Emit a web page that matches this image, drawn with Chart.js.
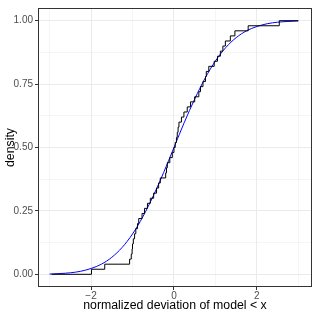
<!DOCTYPE html>
<html>
<head>
<meta charset="utf-8">
<script src="https://cdn.jsdelivr.net/npm/chart.js@4/dist/chart.umd.min.js"></script>
<style>
html,body{margin:0;padding:0;background:#fff;}
#wrap{width:315px;height:315px;}
</style>
</head>
<body>
<div id="wrap"><canvas id="c" width="315" height="315"></canvas></div>
<script>
const ecdfX = [-2.95, -1.99, -1.67, -1.07, -1.03, -1.01, -1.00, -0.98, -0.95, -0.92, -0.88,
  -0.85, -0.77, -0.71, -0.64, -0.57, -0.49, -0.42, -0.37, -0.33, -0.20,
  -0.18, -0.16, -0.10, -0.04, 0.00, 0.03, 0.06, 0.08, 0.10, 0.12,
  0.18, 0.24, 0.32, 0.40, 0.50, 0.60, 0.64, 0.70, 0.76, 0.78,
  0.84, 0.97, 1.05, 1.12, 1.18, 1.24, 1.36, 1.47, 1.79, 2.54, 3.00];
const ecdfY = [0.00, 0.02, 0.04, 0.06, 0.08, 0.10, 0.12, 0.14, 0.16, 0.18, 0.20,
  0.22, 0.24, 0.26, 0.28, 0.30, 0.32, 0.34, 0.36, 0.38, 0.40,
  0.42, 0.44, 0.46, 0.48, 0.50, 0.52, 0.54, 0.56, 0.58, 0.60,
  0.62, 0.64, 0.66, 0.68, 0.70, 0.72, 0.74, 0.76, 0.78, 0.80,
  0.82, 0.84, 0.86, 0.88, 0.90, 0.92, 0.94, 0.96, 0.98, 1.00, 1.00];
// Smooth reference curve (blue)
const curveX = [-3, -2.75, -2.5, -2.25, -2, -1.75, -1.5, -1.25, -1, -0.75, -0.5, -0.25, 0,
  0.25, 0.5, 0.75, 1, 1.25, 1.5, 1.75, 2, 2.25, 2.5, 2.75, 3];
const curveY = [0.001, 0.003, 0.006, 0.012, 0.023, 0.040, 0.067, 0.106, 0.159, 0.227, 0.309, 0.401, 0.500,
  0.599, 0.691, 0.773, 0.841, 0.894, 0.933, 0.960, 0.977, 0.988, 0.994, 0.997, 0.999];
// Axis ticks
const xMajorTicks = [-2, 0, 2];
const xAllTicks = [-3, -2, -1, 0, 1, 2, 3];
const yMajorTicks = [0, 0.25, 0.5, 0.75, 1];
const yAllTicks = [0, 0.125, 0.25, 0.375, 0.5, 0.625, 0.75, 0.875, 1];
const yTickLabels = ['0.00', '0.25', '0.50', '0.75', '1.00'];
const xTitle = 'normalized deviation of model < x';
const yTitle = 'density';

const FONT = "'Liberation Sans', Arial, sans-serif";
const isMajor = (arr, v) => arr.some(m => Math.abs(m - v) < 1e-9);

const borderPlugin = {
  id: 'panelBorder',
  afterDraw(chart) {
    const a = chart.chartArea, ctx = chart.ctx;
    ctx.save();
    ctx.strokeStyle = '#333333';
    ctx.lineWidth = 1;
    ctx.strokeRect(Math.round(a.left) + 0.5, Math.round(a.top) + 0.5,
      Math.round(a.right - a.left) - 1, Math.round(a.bottom - a.top) - 1);
    ctx.restore();
  }
};

new Chart(document.getElementById('c'), {
  type: 'line',
  data: {
    datasets: [
      {
        label: 'ecdf',
        data: ecdfX.map((x, i) => ({x: x, y: ecdfY[i]})),
        borderColor: '#000000',
        borderWidth: 1,
        pointRadius: 0,
        stepped: 'before',
        fill: false
      },
      {
        label: 'model',
        data: curveX.map((x, i) => ({x: x, y: curveY[i]})),
        borderColor: '#0000FF',
        borderWidth: 1,
        pointRadius: 0,
        cubicInterpolationMode: 'monotone',
        fill: false
      }
    ]
  },
  options: {
    responsive: false,
    animation: false,
    devicePixelRatio: 1,
    layout: {padding: {top: 3, right: 3, left: 0, bottom: 0}},
    plugins: {legend: {display: false}, tooltip: {enabled: false}},
    scales: {
      x: {
        type: 'linear',
        min: -3.28,
        max: 3.33,
        afterBuildTicks: s => { s.ticks = xAllTicks.map(v => ({value: v})); },
        afterFit: s => { s.height = 28; },
        border: {display: false},
        grid: {
          color: '#EBEBEB',
          lineWidth: c => isMajor(xMajorTicks, c.tick.value) ? 1 : 0.5,
          tickColor: c => isMajor(xMajorTicks, c.tick.value) ? '#333333' : 'rgba(0,0,0,0)',
          tickLength: 3,
          drawTicks: true
        },
        ticks: {
          autoSkip: false,
          maxRotation: 0,
          padding: 0,
          color: '#4D4D4D',
          font: {family: FONT, size: 10},
          callback: v => isMajor(xMajorTicks, v) ? String(v).replace('-', '\u2212') : ''
        },
        title: {
          display: true,
          text: xTitle,
          color: '#000000',
          font: {family: FONT, size: 12.3},
          padding: {top: 0, bottom: 2}
        }
      },
      y: {
        type: 'linear',
        min: -0.05,
        max: 1.05,
        afterBuildTicks: s => { s.ticks = yAllTicks.map(v => ({value: v})); },
        afterFit: s => { s.width = 38; },
        border: {display: false},
        grid: {
          color: '#EBEBEB',
          lineWidth: c => isMajor(yMajorTicks, c.tick.value) ? 1 : 0.5,
          tickColor: c => isMajor(yMajorTicks, c.tick.value) ? '#333333' : 'rgba(0,0,0,0)',
          tickLength: 3,
          drawTicks: true
        },
        ticks: {
          autoSkip: false,
          padding: 2,
          color: '#4D4D4D',
          font: {family: FONT, size: 10},
          callback: v => {
            const i = yMajorTicks.findIndex(m => Math.abs(m - v) < 1e-9);
            return i >= 0 ? yTickLabels[i] : '';
          }
        },
        title: {
          display: true,
          text: yTitle,
          color: '#000000',
          font: {family: FONT, size: 12.3},
          padding: {top: 3, bottom: 0}
        }
      }
    }
  },
  plugins: [borderPlugin]
});
</script>
</body>
</html>
